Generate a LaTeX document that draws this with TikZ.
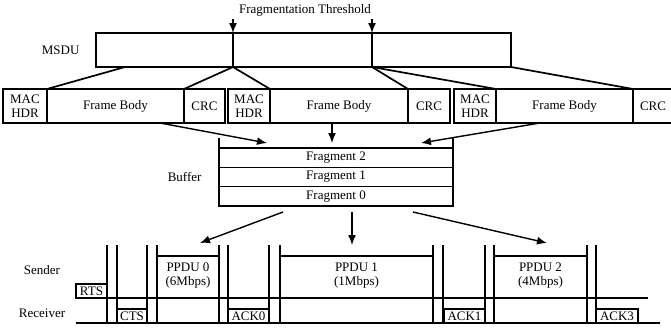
\documentclass[tikz,border=0pt]{standalone}
\usepackage{fontspec}
\setmainfont{Liberation Serif}
\usepackage{tikz}
\usetikzlibrary{calc,positioning,arrows.meta}
\definecolor{ink}{HTML}{000000}

\begin{document}
\begin{tikzpicture}[x=1pt, y=-1pt,
  every node/.style={font=\fontsize{13}{14.5}\selectfont, text=ink},
  fbox/.style={draw=ink, line width=1.5pt, outer sep=0pt, inner sep=0pt, minimum height=34pt, align=center},
  tbox/.style={draw=ink, line width=1.4pt, outer sep=0pt, inner sep=0pt, align=center},
  link/.style={draw=ink, line width=1.7pt},
  arr/.style={draw=ink, line width=1.4pt, -{Latex[length=10pt,width=8pt]}},
  tick/.style={draw=ink, line width=1.5pt}]
  \useasboundingbox (0,0) rectangle (671,330);

  % MSDU and the threshold cuts
  \node (thr) at (305,10) {Fragmentation Threshold};
  \node[fbox, minimum width=415pt] (msdu) at (303.5,50) {};
  \node[left=13pt of msdu] (msdulbl) {MSDU};
  \coordinate (cutA) at (233,33);
  \coordinate (cutB) at (372,33);
  \draw[arr] (cutA |- thr.south) -- (cutA);
  \draw[arr] (cutB |- thr.south) -- (cutB);
  \draw[line width=2.4pt] (cutA) -- (cutA |- msdu.south);
  \draw[line width=2.4pt] (cutB) -- (cutB |- msdu.south);

  % fragments
  \node[fbox, minimum width=44pt] (hdrA) at (25,106) {MAC\\HDR};
  \node[fbox, minimum width=137pt, right=0pt of hdrA] (bodyA) {Frame Body};
  \node[fbox, minimum width=41pt, right=0pt of bodyA] (crcA) {CRC};
  \node[fbox, minimum width=42pt, right=3pt of crcA] (hdrB) {MAC\\HDR};
  \node[fbox, minimum width=138pt, right=0pt of hdrB] (bodyB) {Frame Body};
  \node[fbox, minimum width=42pt, right=0pt of bodyB] (crcB) {CRC};
  \node[fbox, minimum width=42pt, right=4pt of crcB] (hdrC) {MAC\\HDR};
  \node[fbox, minimum width=137pt, right=0pt of hdrC] (bodyC) {Frame Body};
  \node[fbox, draw=none, minimum width=40pt, right=0pt of bodyC] (crcC) {CRC};
  \draw[line width=1.5pt] (crcC.north east) -- (crcC.north west) -- (crcC.south west) -- (crcC.south east);

  \draw[link] ($(msdu.south west)+(29,0)$) -- (bodyA.north west);
  \draw[link] (cutA |- msdu.south) -- (crcA.north west);
  \draw[link] (cutA |- msdu.south) -- (bodyB.north west);
  \draw[link] (cutB |- msdu.south) -- (crcB.north west);
  \draw[link] (cutB |- msdu.south) -- (bodyC.north west);
  \draw[link] (msdu.south east) -- (crcC.north west);

  % buffer
  \node[fbox, minimum width=234pt, minimum height=19.33pt] (fragC) at (336,157.7) {Fragment 2};
  \node[fbox, minimum width=234pt, minimum height=19.33pt, below=0pt of fragC] (fragB) {Fragment 1};
  \node[fbox, minimum width=234pt, minimum height=19.33pt, below=0pt of fragB] (fragA) {Fragment 0};
  \node[left=14pt of fragB] (buflbl) {Buffer};
  \draw[tick] (fragC.north west) -- ++(0,-10);
  \draw[tick] (fragC.north east) -- ++(0,-10);

  \coordinate (inA) at (267,143);
  \coordinate (inB) at (332,143);
  \coordinate (inC) at (421,143);
  \draw[arr] ($(bodyA.south east)+(-24,0)$) -- (inA);
  \draw[arr] (inB |- bodyB.south) -- (inB);
  \draw[arr] ($(bodyC.south west)+(44,0)$) -- (inC);

  % timeline
  \node (sender) at (42,270) {Sender};
  \node (receiver) at (42,313) {Receiver};
  \draw[tick] (76,298) -- (648,298);
  \draw[line width=2.2pt] (76,323) -- (660,323);
  \foreach \x in {107,117,147,157,219,228,269,280,433,443,485,494,587,596} {
    \draw[tick] (\x,245) -- (\x,323);
    \fill[ink] (\x,298) circle (1.5pt);
  }

  \node[tbox, minimum width=31pt, minimum height=14pt] (rts) at (91.5,291) {RTS};
  \node[tbox, minimum width=62pt, minimum height=42pt, text depth=6pt] (ppduA) at (188,277) {PPDU 0\\(6Mbps)};
  \node[tbox, minimum width=153pt, minimum height=42pt, text depth=6pt] (ppduB) at (356.5,277) {PPDU 1\\(1Mbps)};
  \node[tbox, minimum width=93pt, minimum height=42pt, text depth=6pt] (ppduC) at (540.5,277) {PPDU 2\\(4Mbps)};
  \node[tbox, minimum width=30pt, minimum height=14pt] (cts) at (132,316) {CTS};
  \node[tbox, minimum width=41pt, minimum height=14pt] (ackA) at (248.5,316) {ACK0};
  \node[tbox, minimum width=41pt, minimum height=14pt] (ackB) at (464.5,316) {ACK1};
  \node[tbox, minimum width=42pt, minimum height=14pt] (ackC) at (617,316) {ACK3};

  \coordinate (outA) at (283,212);
  \coordinate (outB) at (352,212);
  \coordinate (outC) at (413,212);
  \draw[arr] (outA) -- ($(ppduA.north)+(12,-13)$);
  \draw[arr] (outB) -- ($(ppduB.north)+(-4.5,-11)$);
  \draw[arr] (outC) -- ($(ppduC.north)+(6.5,-13)$);
\end{tikzpicture}
\end{document}
